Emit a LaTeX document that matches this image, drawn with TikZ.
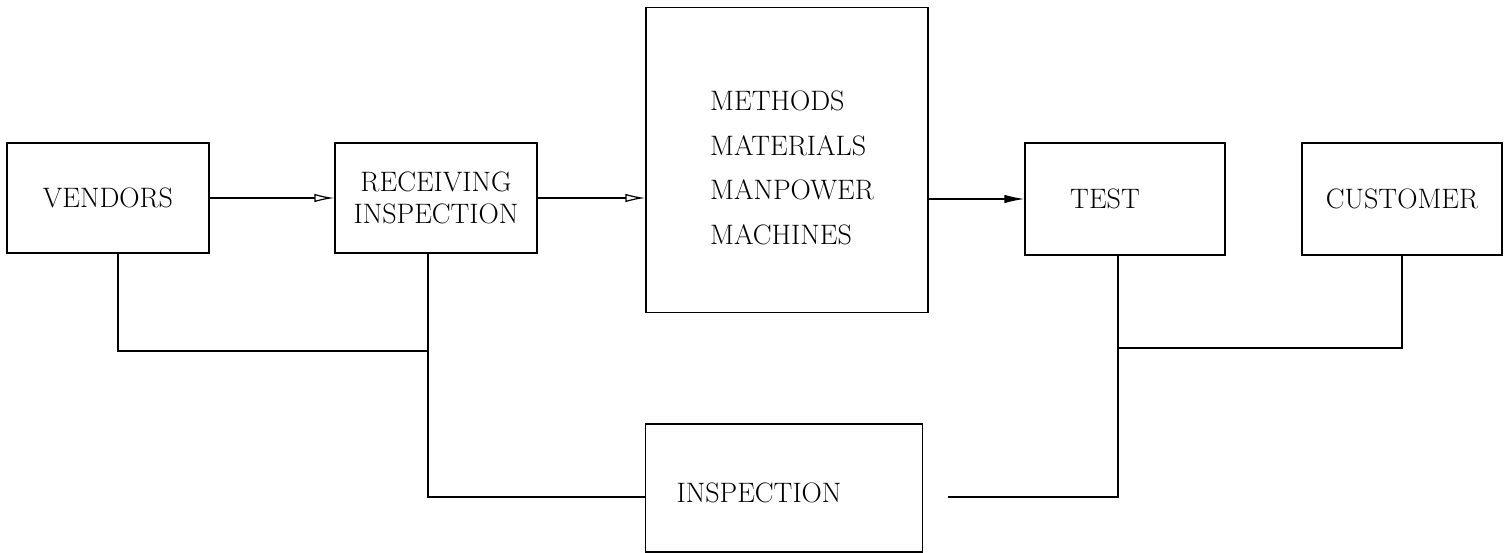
\documentclass[tikz,border=0pt]{standalone}
\usepackage{tikz}
\usetikzlibrary{positioning,arrows.meta}

\begin{document}
\begin{tikzpicture}[x=0.02cm,y=-0.02cm]
    \tikzset{
        boks/.style={
            draw,
            line width=0.8pt,
            inner sep=0pt,
            align=center,
            font=\fontsize{16}{18}\selectfont
        },
        flyt/.style={
            -{Latex[open,length=4mm,width=1.7mm]},
            line width=0.7pt
        },
        fylt/.style={
            -{Latex[length=4mm,width=1.7mm]},
            line width=0.7pt
        },
        linje/.style={
            line width=0.7pt
        },
        liste/.style={
            align=left,
            font=\fontsize{16}{25.5}\selectfont
        }
    }
    \useasboundingbox (0,0) rectangle (1504,553);

    % Bokser
    \node[boks, minimum width=4.04cm, minimum height=2.2cm]  (vendors)  at (108,198)  {VENDORS};
    \node[boks, minimum width=4.04cm, minimum height=2.2cm]  (mottak)   at (436,198)  {RECEIVING\\INSPECTION};
    \node[boks, minimum width=5.64cm, minimum height=6.1cm]  (metoder)  at (787,160)  {};
    \node[liste, anchor=west]                                (ressurs)  at (704,168)  {METHODS\\MATERIALS\\MANPOWER\\MACHINES};
    \node[boks, minimum width=4.0cm,  minimum height=2.24cm] (test)     at (1125,199) {TEST\hspace*{8mm}};
    \node[boks, minimum width=4.0cm,  minimum height=2.24cm] (kunde)    at (1402,199) {CUSTOMER};
    \node[boks, minimum width=5.54cm, minimum height=2.56cm] (kontroll) at (784,488)  {\raisebox{-3mm}[0pt][0pt]{INSPECTION}\hspace*{1cm}};

    % Piler
    \draw[flyt] (vendors) -- (mottak);
    \draw[flyt] (mottak.east) -- (mottak.east -| metoder.west);
    \draw[fylt] (metoder.east |- test) -- (test);

    % Tilbakekobling til kontroll
    \coordinate (mfot) at ([xshift=-1.6mm]mottak.south);
    \coordinate (tfot) at ([xshift=-1.4mm]test.south);
    \draw[linje] ([xshift=2mm]vendors.south) |- (mfot |- 0,351);
    \draw[linje] (mfot) |- ([yshift=-1.8mm]kontroll.west);
    \draw[linje] (kunde.south) |- (tfot |- 0,348);
    \draw[linje] (tfot) |- ([xshift=5mm,yshift=-1.8mm]kontroll.east);
\end{tikzpicture}
\end{document}
